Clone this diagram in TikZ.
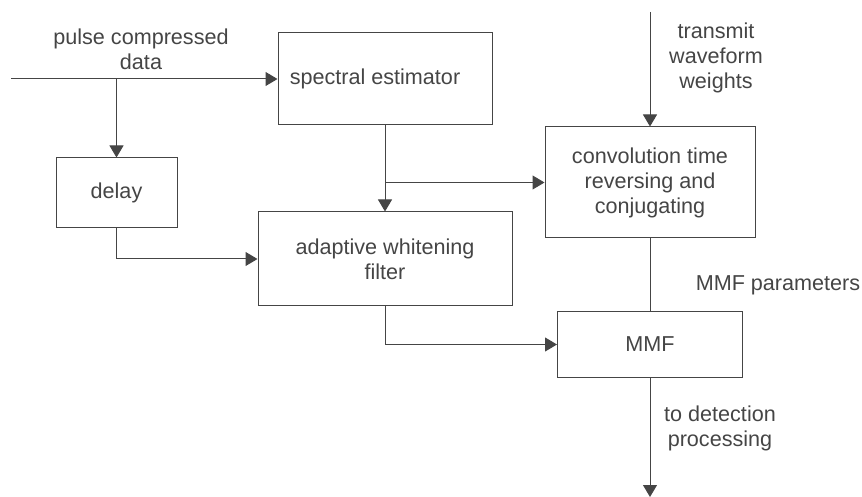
\documentclass[tikz,border=0pt]{standalone}
\usepackage{amsmath}
\usepackage{tikz}
\usepackage{xcolor}
\usepackage{fontspec}
\setmainfont{Liberation Sans}
\usetikzlibrary{arrows.meta}
\usetikzlibrary{positioning}

\definecolor{ink}{gray}{0.27}

\tikzset{
	block/.style={draw={ink}, line width={0.5pt}, text={ink}, align=center, inner sep={0pt}},
	wire/.style={-, draw={ink}, line width={0.5pt}},
	flow/.style={-{Triangle[width=7pt, length=6pt]}, draw={ink}, line width={0.5pt}},
	caption/.style={text={ink}, align=center, inner sep={0pt}}
}

\begin{document}
\begin{tikzpicture}[x={0.5pt}, y={-0.5pt}, font={\fontsize{10.8}{12.5}\selectfont}]
				\useasboundingbox (0, 0) rectangle (862, 497);
				
				\node[block, minimum width={107pt}, minimum height={46pt}] (spec) at (385, 79) {spectral estimator\hspace{10pt}};
				\node[block, minimum width={60.5pt}, minimum height={35pt}] (delay) at (116.5, 193) {delay};
				\node[block, minimum width={127pt}, minimum height={47pt}] (awf) at (385, 259) {adaptive whitening\\filter};
				\node[block, minimum width={105pt}, minimum height={55.5pt}] (conv) at (650, 182.5) {convolution time\\reversing and\\conjugating};
				\node[block, minimum width={92.5pt}, minimum height={32.5pt}] (mmf) at (650, 344.5) {MMF};
				
				\coordinate (datain) at (11, 79);
				\coordinate (weightsin) at (650, 12);
				\coordinate (detout) at (650, 497);
				
				\node[caption] (datalabel) at (141, 49) {pulse compressed\\data};
				\node[caption] (weightslabel) at (716, 58) {transmit\\waveform\\weights};
				\node[caption] (paramlabel) at (778, 285) {MMF parameters};
				\node[caption] (detlabel) at (720, 428) {to detection\\processing};
				
				\draw[flow] (datain) -- (spec.west);
				\draw[flow] (delay.north |- spec.west) -- (delay.north);
				\draw[flow] (delay.south) |- (awf.west);
				\draw[flow] (spec.south) -- (awf.north);
				\draw[flow] (spec.south |- conv.west) -- (conv.west);
				\draw[flow] (weightsin) -- (conv.north);
				\draw[wire] (conv.south) -- (mmf.north);
				\draw[flow] (awf.south) |- (mmf.west);
				\draw[flow] (mmf.south) -- (detout);
				
			\end{tikzpicture}
\end{document}
